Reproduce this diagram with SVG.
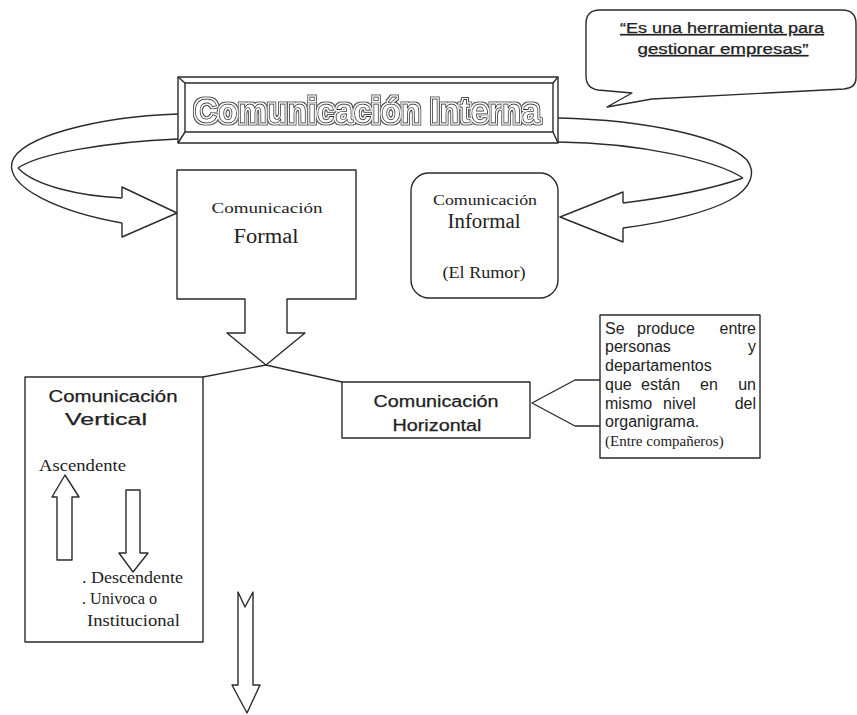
<svg xmlns="http://www.w3.org/2000/svg" width="857" height="715" viewBox="0 0 857 715">
<defs>
<style>
.ln{fill:none;stroke:#2b2b2b;stroke-width:1.4;stroke-linejoin:round}
.bx{fill:#fff;stroke:#2b2b2b;stroke-width:1.4;stroke-linejoin:round}
.sans{font-family:"Liberation Sans",Arial,sans-serif;fill:#222}
.serif{font-family:"Liberation Serif","Times New Roman",serif;fill:#222}
.bold{stroke:#222;stroke-width:0.25}
</style>
<filter id="dbl" x="-5%" y="-20%" width="110%" height="140%">
<feMorphology in="SourceAlpha" operator="dilate" radius="2.3" result="d2"/>
<feMorphology in="SourceAlpha" operator="dilate" radius="1.3" result="d1"/>
<feFlood flood-color="#ffffff" result="w"/>
<feComposite in="w" in2="d1" operator="in" result="wr"/>
<feFlood flood-color="#555555" result="b"/>
<feComposite in="b" in2="d2" operator="in" result="br"/>
<feMerge><feMergeNode in="br"/><feMergeNode in="wr"/><feMergeNode in="SourceGraphic"/></feMerge>
</filter>
</defs>
<rect width="857" height="715" fill="#fff"/>

<g id="connectors">
<!-- left ribbon arrow -->
<path class="ln" d="M178,114 C95,117 20,137 12,162 C6,188 60,212 122,223"/>
<path class="ln" d="M178,139 C105,142 38,154 18,168"/>
<path class="ln" d="M18,168 C35,186 80,196 122,198"/>
<path class="ln" d="M122,198 L122,187 L177,213 L122,237 L122,223"/>
<!-- right ribbon arrow -->
<path class="ln" d="M558,118 C650,120 725,138 747,160 C756,172 752,188 730,200 C710,211 670,222 623,228"/>
<path class="ln" d="M558,142 C640,143 715,160 743,178"/>
<path class="ln" d="M743,178 C720,186 680,196 623,203"/>
<path class="ln" d="M623,203 L623,192 L560,217 L623,242 L623,228"/>
<!-- junction lines -->
<path class="ln" d="M203,377 L266,365 L342,382"/>
<!-- callout from horizontal -->
<path class="ln" d="M600,380 L575,380 L532,403 L575,426 L600,426"/>
<!-- bottom arrow -->
<path class="ln" d="M238,592 L245,607 L253,592 L253,685 L260,685 L247,713 L232,685 L238,685 Z"/>
</g>

<g id="bubble">
<path class="bx" d="M600,10 L842,10 Q856,10 856,24 L856,78 Q856,88 844,89 L652,99 L607,107 L632,93 L598,90 Q586,88 586,76 L586,24 Q586,10 600,10 Z"/>
<text class="sans bold" x="722" y="33" font-size="14" text-anchor="middle" textLength="204" lengthAdjust="spacingAndGlyphs" text-decoration="underline">“Es una herramienta para</text>
<text class="sans bold" x="723" y="54" font-size="14" text-anchor="middle" textLength="171" lengthAdjust="spacingAndGlyphs" text-decoration="underline">gestionar empresas”</text>
</g>

<g id="title">
<rect class="bx" x="178" y="77" width="380" height="66"/>
<rect class="ln" x="185" y="83" width="368" height="49"/>
<path class="ln" d="M178,77 L185,83 M558,77 L553,83 M178,143 L185,132 M558,143 L553,132"/>
<text x="367" y="123" font-family="'Liberation Sans',Arial,sans-serif" font-weight="bold" font-size="35" text-anchor="middle" textLength="346" lengthAdjust="spacingAndGlyphs" fill="#fff" stroke="#333" stroke-width="0.9" filter="url(#dbl)">Comunicación Interna</text>
</g>

<g id="formal">
<path class="bx" d="M177,170 L356,170 L356,299 L287,299 L287,333 L305,333 L266,365 L227,333 L245,333 L245,299 L177,299 Z"/>
<text class="serif" x="267" y="213" font-size="15" text-anchor="middle" textLength="111" lengthAdjust="spacingAndGlyphs">Comunicación</text>
<text class="serif" x="266" y="243" font-size="20" text-anchor="middle" textLength="65" lengthAdjust="spacingAndGlyphs">Formal</text>
</g>

<g id="informal">
<rect class="bx" x="411" y="173" width="147" height="125" rx="18"/>
<text class="serif" x="485" y="205" font-size="15" text-anchor="middle" textLength="104" lengthAdjust="spacingAndGlyphs">Comunicación</text>
<text class="serif" x="484" y="228" font-size="20" text-anchor="middle" textLength="73" lengthAdjust="spacingAndGlyphs">Informal</text>
<text class="serif" x="484" y="278" font-size="16" text-anchor="middle" textLength="83" lengthAdjust="spacingAndGlyphs">(El Rumor)</text>
</g>

<g id="vertical">
<rect class="bx" x="25" y="377" width="178" height="265"/>
<text class="sans bold" x="113" y="402" font-size="16" text-anchor="middle" textLength="129" lengthAdjust="spacingAndGlyphs">Comunicación</text>
<text class="sans bold" x="106" y="425" font-size="16" text-anchor="middle" textLength="82" lengthAdjust="spacingAndGlyphs">Vertical</text>
<text class="serif" x="39" y="471" font-size="17" textLength="87" lengthAdjust="spacingAndGlyphs">Ascendente</text>
<path class="ln" d="M57,560 L57,497 L52,497 L65,475 L79,497 L72,497 L72,560 Z"/>
<path class="ln" d="M126,490 L140,490 L140,553 L148,553 L133,572 L119,553 L126,553 Z"/>
<text class="serif" x="82" y="583" font-size="17" textLength="101" lengthAdjust="spacingAndGlyphs">. Descendente</text>
<text class="serif" x="82" y="604" font-size="17" textLength="75" lengthAdjust="spacingAndGlyphs">. Univoca o</text>
<text class="serif" x="87" y="626" font-size="17" textLength="93" lengthAdjust="spacingAndGlyphs">Institucional</text>
</g>

<g id="horizontal">
<rect class="bx" x="342" y="382" width="188" height="56"/>
<text class="sans bold" x="436" y="407" font-size="16" text-anchor="middle" textLength="125" lengthAdjust="spacingAndGlyphs">Comunicación</text>
<text class="sans bold" x="437" y="431" font-size="16" text-anchor="middle" textLength="89" lengthAdjust="spacingAndGlyphs">Horizontal</text>
</g>

<g id="note">
<rect class="bx" x="600" y="315" width="160" height="143"/>
<g class="sans" font-size="16">
<text x="605" y="334">Se</text><text x="637" y="334">produce</text><text x="756" y="334" text-anchor="end">entre</text>
<text x="605" y="352">personas</text><text x="756" y="352" text-anchor="end">y</text>
<text x="605" y="371">departamentos</text>
<text x="605" y="390">que</text><text x="641" y="390">están</text><text x="700" y="390">en</text><text x="756" y="390" text-anchor="end">un</text>
<text x="605" y="409">mismo</text><text x="663" y="409">nivel</text><text x="756" y="409" text-anchor="end">del</text>
<text x="605" y="427">organigrama.</text>
</g>
<text class="serif" x="605" y="446" font-size="15">(Entre compañeros)</text>
</g>
</svg>
